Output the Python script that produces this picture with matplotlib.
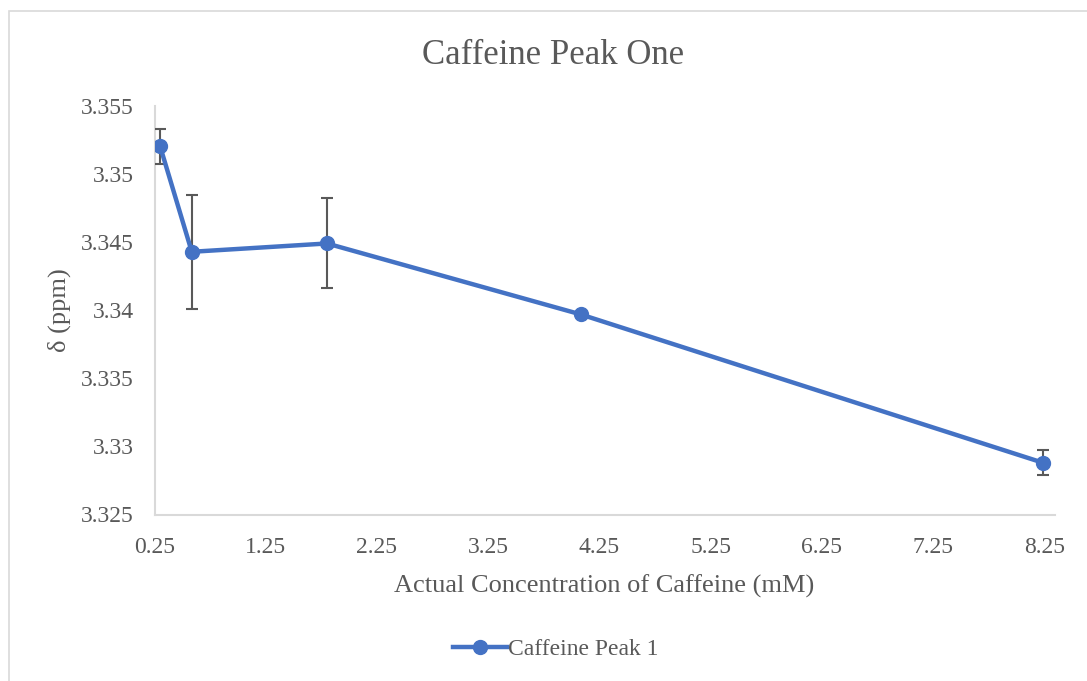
#!/usr/bin/env python3

import matplotlib.pyplot as plt
from matplotlib.lines import Line2D
from matplotlib.patches import Rectangle

# data
concentration = [0.30, 0.585, 1.80, 4.08, 8.235]
shift = [3.35202, 3.34427, 3.34488, 3.33968, 3.32880]
shift_err = [0.00128, 0.0042, 0.0033, 0.0, 0.00092]
x_ticks = [0.25, 1.25, 2.25, 3.25, 4.25, 5.25, 6.25, 7.25, 8.25]
y_ticks = [3.325, 3.33, 3.335, 3.34, 3.345, 3.35, 3.355]
y_labels = ["3.325", "3.33", "3.335", "3.34", "3.345", "3.35", "3.355"]

text_color = "#595959"
line_color = "#4472C4"
axis_color = "#D9D9D9"

plt.rcParams["font.family"] = ["Liberation Serif", "DejaVu Serif"]


def main() -> None:
    fig = plt.figure(figsize=(10.87, 6.81), dpi=100)
    ax = fig.add_axes((154.5 / 1087, 1 - 514.5 / 681, 900 / 1087, 409 / 681))

    # chart border (cropped on the right and bottom in the reference)
    fig.patches.append(
        Rectangle((8.5 / 1087, -0.1), 1.2, 1 - 11 / 681 + 0.1,
                  transform=fig.transFigure, fill=False,
                  edgecolor=axis_color, linewidth=1.2)
    )

    ax.errorbar(
        concentration, shift, yerr=shift_err,
        color=line_color, linewidth=3.2, marker="o", markersize=10,
        ecolor=text_color, elinewidth=1.5, capsize=4, capthick=1.5,
        zorder=3,
    )

    ax.set_xlim(0.25, 8.34)
    ax.set_ylim(3.325, 3.355)
    ax.set_xticks(x_ticks, [f"{t:.2f}" for t in x_ticks])
    ax.set_yticks(y_ticks, y_labels)
    ax.tick_params(length=0, labelsize=17, colors=text_color)
    ax.tick_params(axis="y", pad=15)
    ax.tick_params(axis="x", pad=16)

    for side in ("top", "right"):
        ax.spines[side].set_visible(False)
    for side in ("left", "bottom"):
        ax.spines[side].set_color(axis_color)
        ax.spines[side].set_linewidth(1.5)

    fig.text(0.509, 1 - 55 / 681, "Caffeine Peak One", fontsize=25,
             color=text_color, ha="center", va="center")
    ax.set_xlabel("Actual Concentration of Caffeine (mM)", fontsize=19,
                  color=text_color, labelpad=12)
    ax.set_ylabel("δ (ppm)", fontsize=19, color=text_color, labelpad=7)

    handle = Line2D([], [], color=line_color, linewidth=3.2, marker="o",
                    markersize=10)
    fig.legend(
        [handle], ["Caffeine Peak 1"], loc="center",
        bbox_to_anchor=(556 / 1087, 1 - 649 / 681),
        frameon=False, fontsize=17, labelcolor=text_color,
        handlelength=2.3, handletextpad=0.05,
    )

    fig.savefig("out.png", dpi=100)


if __name__ == "__main__":
    main()
